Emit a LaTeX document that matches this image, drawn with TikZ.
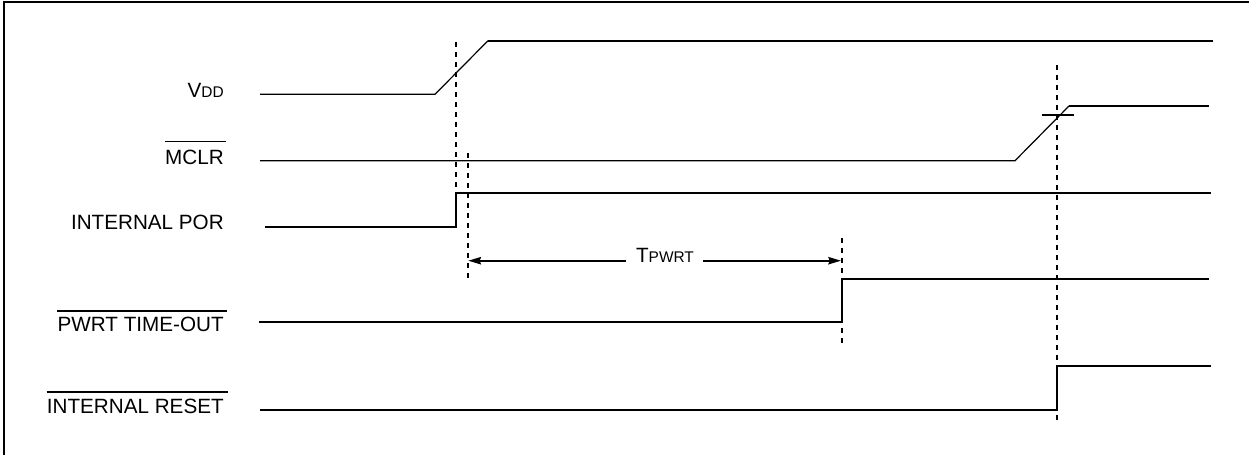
\documentclass[tikz,border=0pt]{standalone}
\usepackage{fontspec}
\setmainfont{Liberation Sans}
\usetikzlibrary{arrows.meta}
\newcommand\smc[1]{{\fontsize{11.6}{12}\selectfont #1}}
\tikzset{
  thickwave/.style={line width=1.5pt, line join=miter},
  thinwave/.style={line width=0.9pt},
  dashline/.style={line width=1.5pt, dash pattern=on 3.75pt off 3.75pt},
  lbl/.style={anchor=base east, inner sep=0pt, font=\fontsize{15.5}{18}\selectfont},
  ovl/.style={line width=1.3pt},
  dimarrow/.style={line width=1.4pt, -{Stealth[length=9.5pt,width=5.5pt,inset=1pt]}},
  frameline/.style={line width=1.6pt}
}
\begin{document}
\begin{tikzpicture}[x=0.75pt, y=-0.75pt]
\useasboundingbox (0,0) rectangle (1249,454);
% frame
\draw[frameline] (4,470) -- (4,1.8) -- (1260,1.8);

% labels
\node[lbl] (lvdd) at (224,97.7) {V\smc{DD}};
\node[lbl] (lmclr) at (224,164.3) {MCLR};
\node[lbl] (lpor) at (224,229) {INTERNAL POR};
\node[lbl] (lpwrt) at (224,331.7) {PWRT TIME-OUT};
\node[lbl] (lrst) at (224,413) {INTERNAL RESET};
\draw[ovl] ([yshift=6pt]lmclr.north west) -- ([yshift=6pt,xshift=1.5pt]lmclr.north east);
\draw[ovl] ([yshift=4.5pt]lpwrt.north west) -- ([yshift=4.5pt,xshift=2pt]lpwrt.north east);
\draw[ovl] ([yshift=4.5pt]lrst.north west) -- ([yshift=4.5pt,xshift=3pt]lrst.north east);

% VDD
\coordinate (v0) at (260,94.3);
\coordinate (v1) at (435,94.3);
\coordinate (v2) at (488,40.7);
\coordinate (v3) at (1213,40.7);
\draw[thinwave] (v0) -- (v1) -- (v2);
\draw[thickwave] (v2) -- (v3);

% MCLR
\coordinate (m0) at (260,160.7);
\coordinate (m1) at (1015,160.7);
\coordinate (m2) at (1069,106);
\coordinate (m3) at (1209,106);
\draw[thinwave] (m0) -- (m1) -- (m2);
\draw[thickwave] (m2) -- (m3);
\coordinate (t0) at (1042,115);
\coordinate (t1) at (1074,115);
\draw[thickwave] (t0) -- (t1);

% INTERNAL POR
\coordinate (p0) at (265,226.7);
\coordinate (p1) at (455.5,226.7);
\coordinate (p2) at (455.5,192.7);
\coordinate (p3) at (1211,192.7);
\draw[thickwave] (p0) -- (p1) -- (p2) -- (p3);

% PWRT TIME-OUT
\coordinate (w0) at (259,321.7);
\coordinate (w1) at (842,321.7);
\coordinate (w2) at (842,279);
\coordinate (w3) at (1209,279);
\draw[thickwave] (w0) -- (w1) -- (w2) -- (w3);

% INTERNAL RESET
\coordinate (r0) at (260,410);
\coordinate (r1) at (1056.7,410);
\coordinate (r2) at (1056.7,365.7);
\coordinate (r3) at (1211,365.7);
\draw[thickwave] (r0) -- (r1) -- (r2) -- (r3);

% dashed markers
\coordinate (d1a) at (455.5,42);
\draw[dashline] (d1a) -- (p2);
\coordinate (d2a) at (468.3,153);
\coordinate (d2b) at (468.3,280);
\draw[dashline] (d2a) -- (d2b);
\coordinate (d3a) at (842,238);
\coordinate (d3b) at (842,347);
\draw[dashline] (d3a) -- (d3b);
\coordinate (d4a) at (1056.7,65);
\coordinate (d4b) at (1056.7,421.7);
\draw[dashline] (d4a) -- (d4b);

% TPWRT
\node[anchor=base, inner sep=0pt, font=\fontsize{15.5}{18}\selectfont] (tp) at (665,262) {T\smc{PWRT}};
\coordinate (al) at (468.3,260.7);
\coordinate (ar) at (841,260.7);
\coordinate (tl) at (626,260.7);
\coordinate (tr) at (703,260.7);
\draw[dimarrow] (tl) -- (al);
\draw[dimarrow] (tr) -- (ar);
\end{tikzpicture}
\end{document}
